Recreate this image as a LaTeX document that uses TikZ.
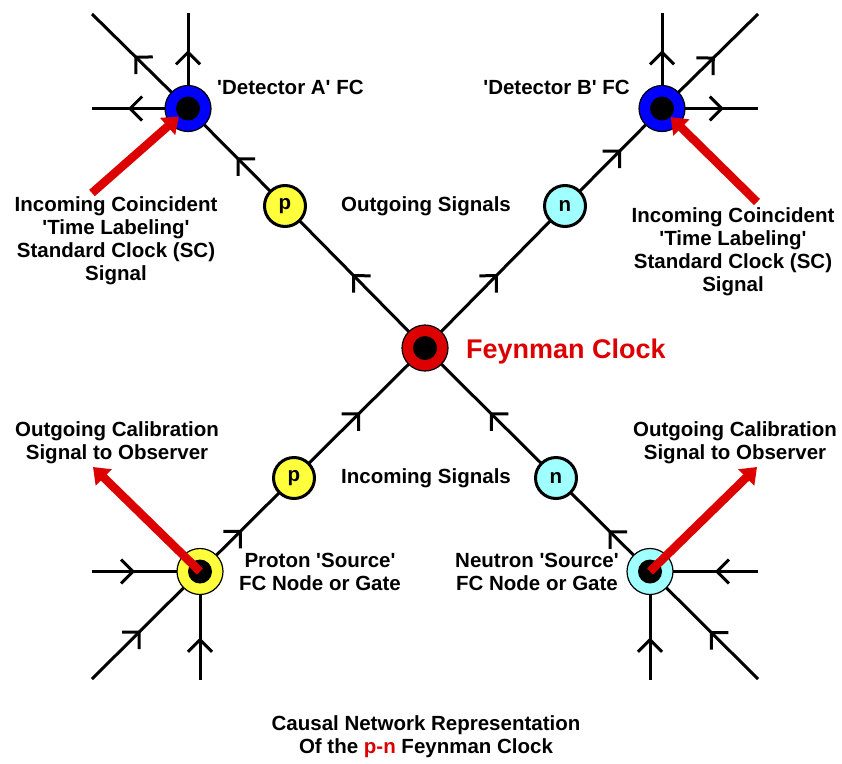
\documentclass[tikz,border=0pt]{standalone}
\usepackage{fontspec}
\setmainfont{Liberation Sans}
\usetikzlibrary{arrows.meta,decorations.markings}
\pgfdeclarelayer{background}
\pgfsetlayers{background,main}
\definecolor{fcred}{RGB}{221,0,0}
\definecolor{fcblue}{RGB}{0,0,255}
\definecolor{fcyel}{RGB}{255,255,60}
\definecolor{fccyan}{RGB}{160,255,255}
\newcommand{\myq}{\textquotesingle}
\begin{document}
\begin{tikzpicture}[x=1pt,y=-1pt,
  lbl/.style={font=\fontsize{20.5}{23}\selectfont\bfseries, align=center, inner sep=0pt},
  ring/.style={circle, draw=black, line width=1.2pt, minimum size=46pt, inner sep=0pt},
  core/.style={circle, fill=black, minimum size=24pt, inner sep=0pt},
  part/.style={circle, draw=black, line width=3pt, minimum size=41pt, inner sep=0pt, font=\fontsize{20.5}{23}\selectfont\bfseries},
  sig/.style={line width=3pt, postaction={decorate},
    decoration={markings, mark=at position #1 with {\arrow{Straight Barb[length=12pt,width=24pt,line cap=butt]}}}},
  redarr/.style={draw=fcred, line width=8.5pt, -{Triangle[length=15pt,width=22pt]}},
]
\useasboundingbox (0,0) rectangle (842,763);

% main nodes
\node[ring, fill=fcred] (C) at (425,348) {};
\node[core] (Ci) at (C) {};
\node[ring, fill=fcblue] (A) at (188,108.5) {};
\node[core] (Ai) at (A) {};
\node[ring, fill=fcblue] (B) at (662,108.5) {};
\node[core] (Bi) at (B) {};
\node[ring, fill=fcyel] (P) at (200,571.5) {};
\node[core] (Pi) at (P) {};
\node[ring, fill=fccyan] (N) at (650,571.5) {};
\node[core] (Ni) at (N) {};
\node[part, fill=fcyel] (pU) at (285,206) {p};
\node[part, fill=fccyan] (nU) at (565,206) {n};
\node[part, fill=fcyel] (pL) at (294,478) {p};
\node[part, fill=fccyan] (nL) at (556,478) {n};

% free ends
\coordinate (aTL) at (92,14);
\coordinate (aUp) at (188,13);
\coordinate (aL) at (92,108.5);
\coordinate (bTR) at (758,14);
\coordinate (bUp) at (662,13);
\coordinate (bR) at (758,108.5);
\coordinate (pBL) at (92,679);
\coordinate (pDn) at (200,680);
\coordinate (pLft) at (92,571.5);
\coordinate (nBR) at (758,679);
\coordinate (nDn) at (650,680);
\coordinate (nRt) at (758,571.5);

\begin{pgfonlayer}{background}
\draw[sig=0.56] (A.center) -- (aTL);
\draw[sig=0.61] (A.center) -- (aUp);
\draw[sig=0.625] (A.center) -- (aL);
\draw[sig=0.5] (pU.center) -- (A.center);
\draw[sig=0.52] (C.center) -- (pU.center);
\draw[sig=0.52] (C.center) -- (nU.center);
\draw[sig=0.58] (nU.center) -- (B.center);
\draw[sig=0.55] (B.center) -- (bTR);
\draw[sig=0.61] (B.center) -- (bUp);
\draw[sig=0.645] (B.center) -- (bR);
\draw[sig=0.445] (P.center) -- (pL.center);
\draw[sig=0.505] (pL.center) -- (C.center);
\draw[sig=0.505] (nL.center) -- (C.center);
\draw[sig=0.44] (N.center) -- (nL.center);
\draw[sig=0.4] (pLft) -- (P.center);
\draw[sig=0.39] (pDn) -- (P.center);
\draw[sig=0.45] (pBL) -- (P.center);
\draw[sig=0.4] (nRt) -- (N.center);
\draw[sig=0.39] (nDn) -- (N.center);
\draw[sig=0.445] (nBR) -- (N.center);
\end{pgfonlayer}

% red arrows
\coordinate (tailA) at (92,193);
\coordinate (tailB) at (757,202);
\coordinate (tipP) at (93,467);
\coordinate (tipN) at (757,467);
\draw[redarr] (tailA) -- (Ai);
\draw[redarr] (tailB) -- (Bi);
\draw[redarr] (P.center) -- (tipP);
\draw[redarr] (N.center) -- (tipN);

% labels
\node[lbl, anchor=west] (detA) at (217,87) {\myq Detector A\myq\ FC};
\node[lbl, anchor=east] (detB) at (630,87) {\myq Detector B\myq\ FC};
\node[lbl] (incA) at (116,241) {Incoming Coincident\\\myq Time Labeling\myq\\Standard Clock (SC)\\Signal};
\node[lbl] (incB) at (733,252) {Incoming Coincident\\\myq Time Labeling\myq\\Standard Clock (SC)\\Signal};
\node[lbl] (outs) at (426,206) {Outgoing Signals};
\node[lbl] (ins) at (426,478) {Incoming Signals};
\node[font=\fontsize{27}{30}\selectfont\bfseries, text=fcred, anchor=base west, inner sep=0pt] (fcl) at (466,358) {Feynman Clock};
\node[lbl] (calA) at (117,443) {Outgoing Calibration\\Signal to Observer};
\node[lbl] (calB) at (735,443) {Outgoing Calibration\\Signal to Observer};
\node[lbl] (psrc) at (320,572) {Proton \myq Source\myq\\FC Node or Gate};
\node[lbl] (nsrc) at (537,572) {Neutron \myq Source\myq\\FC Node or Gate};
\node[lbl] (cap) at (426,737) {Causal Network Representation\\Of the \textcolor{fcred}{p-n} Feynman Clock};
\end{tikzpicture}
\end{document}
